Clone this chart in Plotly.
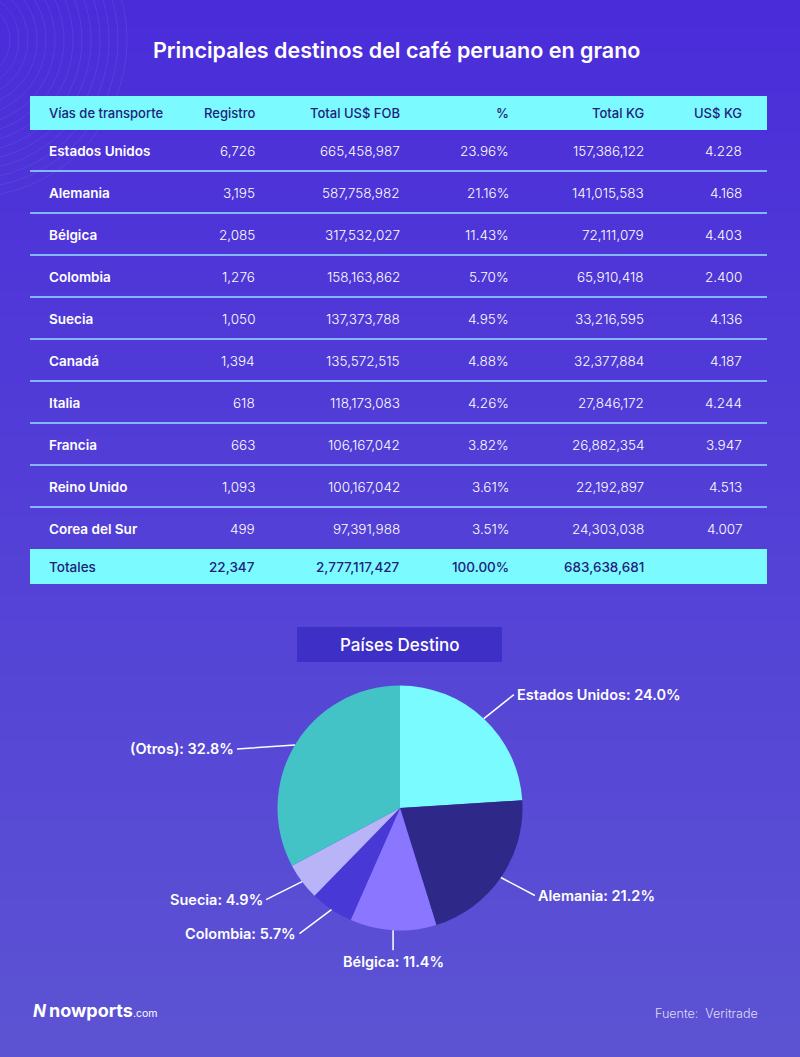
import plotly.graph_objects as go
import math

W, H = 800, 1057

# ---------------- data ----------------
title = "Principales destinos del café peruano en grano"
headers = ["Vías de transporte", "Registro", "Total US$ FOB", "%", "Total KG", "US$ KG"]
countries = ["Estados Unidos", "Alemania", "Bélgica", "Colombia", "Suecia",
             "Canadá", "Italia", "Francia", "Reino Unido", "Corea del Sur"]
registro = [6726, 3195, 2085, 1276, 1050, 1394, 618, 663, 1093, 499]
total_fob = [665458987, 587758982, 317532027, 158163862, 137373788,
             135572515, 118173083, 106167042, 100167042, 97391988]
pct = [23.96, 21.16, 11.43, 5.70, 4.95, 4.88, 4.26, 3.82, 3.61, 3.51]
total_kg = [157386122, 141015583, 72111079, 65910418, 33216595,
            32377884, 27846172, 26882354, 22192897, 24303038]
us_kg = [4.228, 4.168, 4.403, 2.400, 4.136, 4.187, 4.244, 3.947, 4.513, 4.007]
totals = ["Totales", "22,347", "2,777,117,427", "100.00%", "683,638,681", ""]

pie_title = "Países Destino"
pie_labels = ["Estados Unidos", "Alemania", "Bélgica", "Colombia", "Suecia", "(Otros)"]
pie_values = [24.0, 21.2, 11.4, 5.7, 4.9, 32.8]
pie_colors = ["#7AFBFF", "#2E2889", "#8A76FF", "#4838D6", "#B9B3F8", "#43C3C6"]

source_text = "Fuente:  Veritrade"

# ---------------- style / layout ----------------
FONT = "Inter"
# connector offsets (pixels) from each slice edge to its label
label_offsets = [(30, -24), (34, 18), (0, 20), (-32, 24), (-36, 18), (-58, 4)]

def px(x):
    return x / W
def py(y):
    return 1 - y / H

fig = go.Figure()
shapes = []
annotations = []

# background gradient
top = (74, 45, 217)
bot = (92, 83, 211)
N = 80
for i in range(N):
    t = i / (N - 1)
    c = tuple(round(top[k] + (bot[k] - top[k]) * t) for k in range(3))
    shapes.append(dict(type="rect", xref="paper", yref="paper", layer="below",
                       x0=0, x1=1, y0=py(H * (i + 1) / N) - 0.001, y1=py(H * i / N),
                       fillcolor="rgb(%d,%d,%d)" % c, line_width=0))

# decorative concentric arcs (top-left)
for r in range(40, 160, 9):
    cx, cy = -30, 40
    shapes.append(dict(type="circle", xref="paper", yref="paper", layer="below",
                       x0=px(cx - r), x1=px(cx + r), y0=py(cy + r), y1=py(cy - r),
                       line=dict(color="rgba(255,255,255,0.07)", width=1)))

# title
annotations.append(dict(text=title, x=px(396), y=py(50), xref="paper", yref="paper",
                        showarrow=False, xanchor="center", yanchor="middle",
                        font=dict(family=FONT, size=21.5, color="white", weight=600)))

# table geometry
TX0, TX1 = 30, 767
col_x = [47, 257, 402, 511, 646, 744]
col_anchor = ["left", "right", "right", "right", "right", "right"]
header_y0, header_y1 = 96, 130
row0, row_step = 151, 42
cyan = "#7BFBFF"
dark_text = "#22217A"

shapes.append(dict(type="rect", xref="paper", yref="paper", x0=px(TX0), x1=px(TX1),
                   y0=py(header_y1), y1=py(header_y0), fillcolor=cyan, line_width=0))
for j, h in enumerate(headers):
    annotations.append(dict(text=h, x=px(col_x[j]), y=py((header_y0 + header_y1) / 2),
                            xref="paper", yref="paper", showarrow=False,
                            xanchor=col_anchor[j], yanchor="middle",
                            font=dict(family=FONT, size=13, color=dark_text, weight=500)))

rows = []
for i in range(len(countries)):
    rows.append([countries[i], f"{registro[i]:,}", f"{total_fob[i]:,}",
                 f"{pct[i]:.2f}%", f"{total_kg[i]:,}", f"{us_kg[i]:.3f}"])

for i, row in enumerate(rows):
    yc = row0 + row_step * i
    for j, val in enumerate(row):
        annotations.append(dict(text=val, x=px(col_x[j]), y=py(yc), xref="paper", yref="paper",
                                showarrow=False, xanchor=col_anchor[j], yanchor="middle",
                                font=dict(family=FONT, size=13.5, color="white",
                                          weight=600 if j == 0 else 300)))
    if i < len(rows) - 1:
        ly = yc + 20
        shapes.append(dict(type="line", xref="paper", yref="paper", x0=px(TX0), x1=px(TX1),
                           y0=py(ly), y1=py(ly), line=dict(color="#83B6FF", width=2)))

tot_y0 = row0 + row_step * (len(rows) - 1) + 20
tot_y1 = tot_y0 + 35
shapes.append(dict(type="rect", xref="paper", yref="paper", x0=px(TX0), x1=px(TX1),
                   y0=py(tot_y1), y1=py(tot_y0), fillcolor=cyan, line_width=0))
for j, val in enumerate(totals):
    if val:
        annotations.append(dict(text=val, x=px(col_x[j]), y=py((tot_y0 + tot_y1) / 2),
                                xref="paper", yref="paper", showarrow=False,
                                xanchor=col_anchor[j], yanchor="middle",
                                font=dict(family=FONT, size=13.5, color=dark_text, weight=500)))

# pie title box
shapes.append(dict(type="rect", xref="paper", yref="paper", x0=px(297), x1=px(502),
                   y0=py(662), y1=py(627), fillcolor="#3E2FC6", line_width=0))
annotations.append(dict(text=pie_title, x=px(400), y=py(644.5), xref="paper", yref="paper",
                        showarrow=False, xanchor="center", yanchor="middle",
                        font=dict(family=FONT, size=17, color="white", weight=500)))

# pie
PCX, PCY, PR = 400, 808, 122.5
fig.add_trace(go.Pie(labels=pie_labels, values=pie_values, sort=False, direction="clockwise",
                     rotation=0, textinfo="none", hoverinfo="label+percent",
                     marker=dict(colors=pie_colors, line=dict(width=0)),
                     domain=dict(x=[px(PCX - PR), px(PCX + PR)], y=[py(PCY + PR), py(PCY - PR)]),
                     showlegend=False))

total = sum(pie_values)
cum = 0
for k, (lab, v) in enumerate(zip(pie_labels, pie_values)):
    mid = (cum + v / 2) / total * 2 * math.pi
    cum += v
    s, c = math.sin(mid), math.cos(mid)
    ex, ey = PCX + PR * s, PCY - PR * c
    ax, ay = label_offsets[k]
    if abs(s) < 0.2:
        xa, ya = "center", ("top" if c < 0 else "bottom")
    else:
        xa, ya = ("left" if s > 0 else "right"), "middle"
    annotations.append(dict(text=f"{lab}: {v:.1f}%", x=px(ex), y=py(ey), xref="paper", yref="paper",
                            showarrow=True, arrowhead=0, arrowwidth=1.5, arrowcolor="white",
                            ax=ax, ay=ay, standoff=0, startstandoff=0,
                            xanchor=xa, yanchor=ya, borderpad=2,
                            font=dict(family=FONT, size=14.5, color="white", weight=600)))

# footer
annotations.append(dict(text="<b><i>N</i></b>", x=px(31), y=py(1011), xref="paper", yref="paper",
                        showarrow=False, xanchor="left", yanchor="middle",
                        font=dict(family=FONT, size=17, color="white")))
annotations.append(dict(text="<b>nowports</b><span style='font-size:10.5px'>.com</span>",
                        x=px(47), y=py(1010), xref="paper", yref="paper",
                        showarrow=False, xanchor="left", yanchor="middle",
                        font=dict(family=FONT, size=18, color="white")))
annotations.append(dict(text=source_text, x=px(760), y=py(1013), xref="paper", yref="paper",
                        showarrow=False, xanchor="right", yanchor="middle",
                        font=dict(family=FONT, size=12.5, color="#E0DDF8", weight=300)))

fig.update_layout(width=W, height=H, margin=dict(l=0, r=0, t=0, b=0),
                  paper_bgcolor="#5240D6", plot_bgcolor="rgba(0,0,0,0)",
                  shapes=shapes, annotations=annotations,
                  xaxis=dict(visible=False), yaxis=dict(visible=False))

fig.write_html("out.html", config=dict(displayModeBar=False),
               post_script="document.body.style.margin='0';document.body.style.background='#5240D6';")
